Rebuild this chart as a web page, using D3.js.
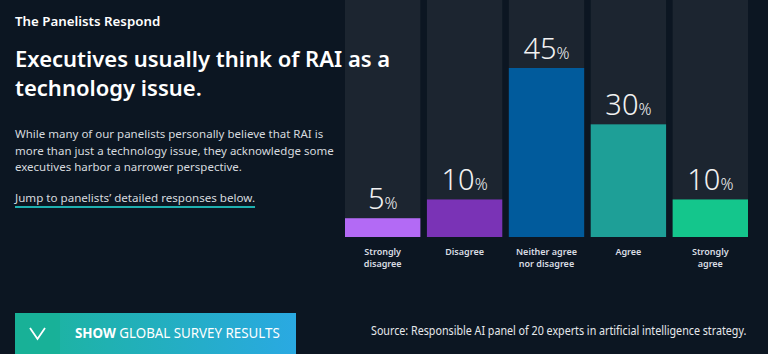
<!DOCTYPE html>
<html>
<head>
<meta charset="utf-8">
<script src="https://cdn.jsdelivr.net/npm/d3@7"></script>
<style>
  html, body { margin: 0; padding: 0; background: #0c1622; }
  svg { display: block; }
</style>
</head>
<body>
<svg id="chart"></svg>
<script>
// data
const categories = ['Strongly disagree', 'Disagree', 'Neither agree nor disagree', 'Agree', 'Strongly agree'];
const categoryLines = [['Strongly', 'disagree'], ['Disagree'], ['Neither agree', 'nor disagree'], ['Agree'], ['Strongly', 'agree']];
const shares = [5, 10, 45, 30, 10];
const barColors = ['#b36af5', '#7a33b6', '#015b9c', '#1e9f97', '#14c68c'];

const W = 768, H = 354;
const svg = d3.select('#chart').attr('width', W).attr('height', H);

svg.append('rect').attr('width', W).attr('height', H).attr('fill', '#0c1622');

const font = "'Noto Sans', 'Open Sans', sans-serif";

// chart area
const chartLeft = 345, chartRight = 748, baseY = 237;
const xScale = d3.scaleBand().domain(categories).range([chartLeft, chartRight]).paddingInner(0.08).paddingOuter(0);
const yScale = d3.scaleLinear().domain([0, 45]).range([baseY, 68]);

const g = svg.append('g');

// column backgrounds
g.selectAll('.col-bg')
  .data(categories)
  .join('rect')
  .attr('class', 'col-bg')
  .attr('x', d => xScale(d))
  .attr('y', 0)
  .attr('width', xScale.bandwidth())
  .attr('height', baseY)
  .attr('fill', '#1c2530');

// bars
g.selectAll('.bar')
  .data(shares)
  .join('rect')
  .attr('class', 'bar')
  .attr('x', (d, i) => xScale(categories[i]))
  .attr('y', d => yScale(d))
  .attr('width', xScale.bandwidth())
  .attr('height', d => baseY - yScale(d))
  .attr('fill', (d, i) => barColors[i]);

// value labels
const vl = g.selectAll('.val')
  .data(shares)
  .join('text')
  .attr('class', 'val')
  .attr('x', (d, i) => xScale(categories[i]) + xScale.bandwidth() / 2)
  .attr('y', d => yScale(d) - 9)
  .attr('text-anchor', 'middle')
  .attr('fill', '#f2f2f2')
  .attr('font-family', font)
  .attr('font-weight', 300);
vl.append('tspan').attr('font-size', 29).text(d => d);
vl.append('tspan').attr('font-size', 16).text('%');

// category labels
const cl = g.selectAll('.cat')
  .data(categoryLines)
  .join('text')
  .attr('class', 'cat')
  .attr('x', (d, i) => xScale(categories[i]) + xScale.bandwidth() / 2)
  .attr('y', 255)
  .attr('text-anchor', 'middle')
  .attr('fill', '#d9dde2')
  .attr('font-family', font)
  .attr('font-size', 9)
  .attr('font-weight', 600);
cl.selectAll('tspan')
  .data(d => d)
  .join('tspan')
  .attr('x', function() { return this.parentNode.getAttribute('x'); })
  .attr('dy', (d, i) => i === 0 ? 0 : 12)
  .text(d => d);

// left text
svg.append('text').attr('x', 15).attr('y', 26)
  .attr('fill', '#ffffff').attr('font-family', font).attr('font-size', 13.3).attr('font-weight', 600)
  .text('The Panelists Respond');

const heading = ['Executives usually think of RAI as a', 'technology issue.'];
svg.append('text').attr('font-family', font).attr('font-size', 22).attr('font-weight', 600).attr('fill', '#ffffff')
  .selectAll('tspan').data(heading).join('tspan')
  .attr('x', 15).attr('y', (d, i) => 67 + i * 29).text(d => d);

const body = ['While many of our panelists personally believe that RAI is', 'more than just a technology issue, they acknowledge some', 'executives harbor a narrower perspective.'];
svg.append('text').attr('font-family', font).attr('font-size', 11.5).attr('fill', '#d6dadf')
  .selectAll('tspan').data(body).join('tspan')
  .attr('x', 15).attr('y', (d, i) => 138 + i * 16.5).text(d => d);

const link = svg.append('text').attr('x', 15).attr('y', 202)
  .attr('font-family', font).attr('font-size', 11.6).attr('fill', '#d6dadf')
  .text('Jump to panelists\u2019 detailed responses below.');
const lw = link.node().getComputedTextLength();
svg.append('rect').attr('x', 15).attr('y', 206).attr('width', lw).attr('height', 2).attr('fill', '#1fb0b0');

// button
const grad = svg.append('defs').append('linearGradient').attr('id', 'btn').attr('x1', 0).attr('x2', 1);
grad.append('stop').attr('offset', 0).attr('stop-color', '#1bb59a');
grad.append('stop').attr('offset', 1).attr('stop-color', '#2aa9e2');
svg.append('rect').attr('x', 15).attr('y', 313).attr('width', 281).attr('height', 41).attr('fill', 'url(#btn)');
svg.append('rect').attr('x', 15).attr('y', 313).attr('width', 45).attr('height', 41).attr('fill', '#17b096').attr('opacity', 0.85);
svg.append('path').attr('d', 'M30,328 L37.5,339 L45,328').attr('fill', 'none').attr('stroke', '#ffffff').attr('stroke-width', 1.8);

// condensed texts: squeeze horizontally to match the narrow face
function squeeze(sel, x, target) {
  const w = sel.node().getComputedTextLength();
  const k = target / w;
  sel.attr('x', 0).attr('transform', `translate(${x},0) scale(${k},1)`);
}
const btnText = svg.append('text').attr('y', 338)
  .attr('font-family', font).attr('font-size', 14).attr('fill', '#ffffff');
btnText.append('tspan').attr('font-weight', 700).text('SHOW ');
btnText.append('tspan').text('GLOBAL SURVEY RESULTS');
squeeze(btnText, 75, 205);

const src = svg.append('text').attr('y', 335)
  .attr('font-family', font).attr('font-size', 12.5).attr('fill', '#e6e8eb')
  .text('Source: Responsible AI panel of 20 experts in artificial intelligence strategy.');
squeeze(src, 371, 376);
</script>
</body>
</html>
